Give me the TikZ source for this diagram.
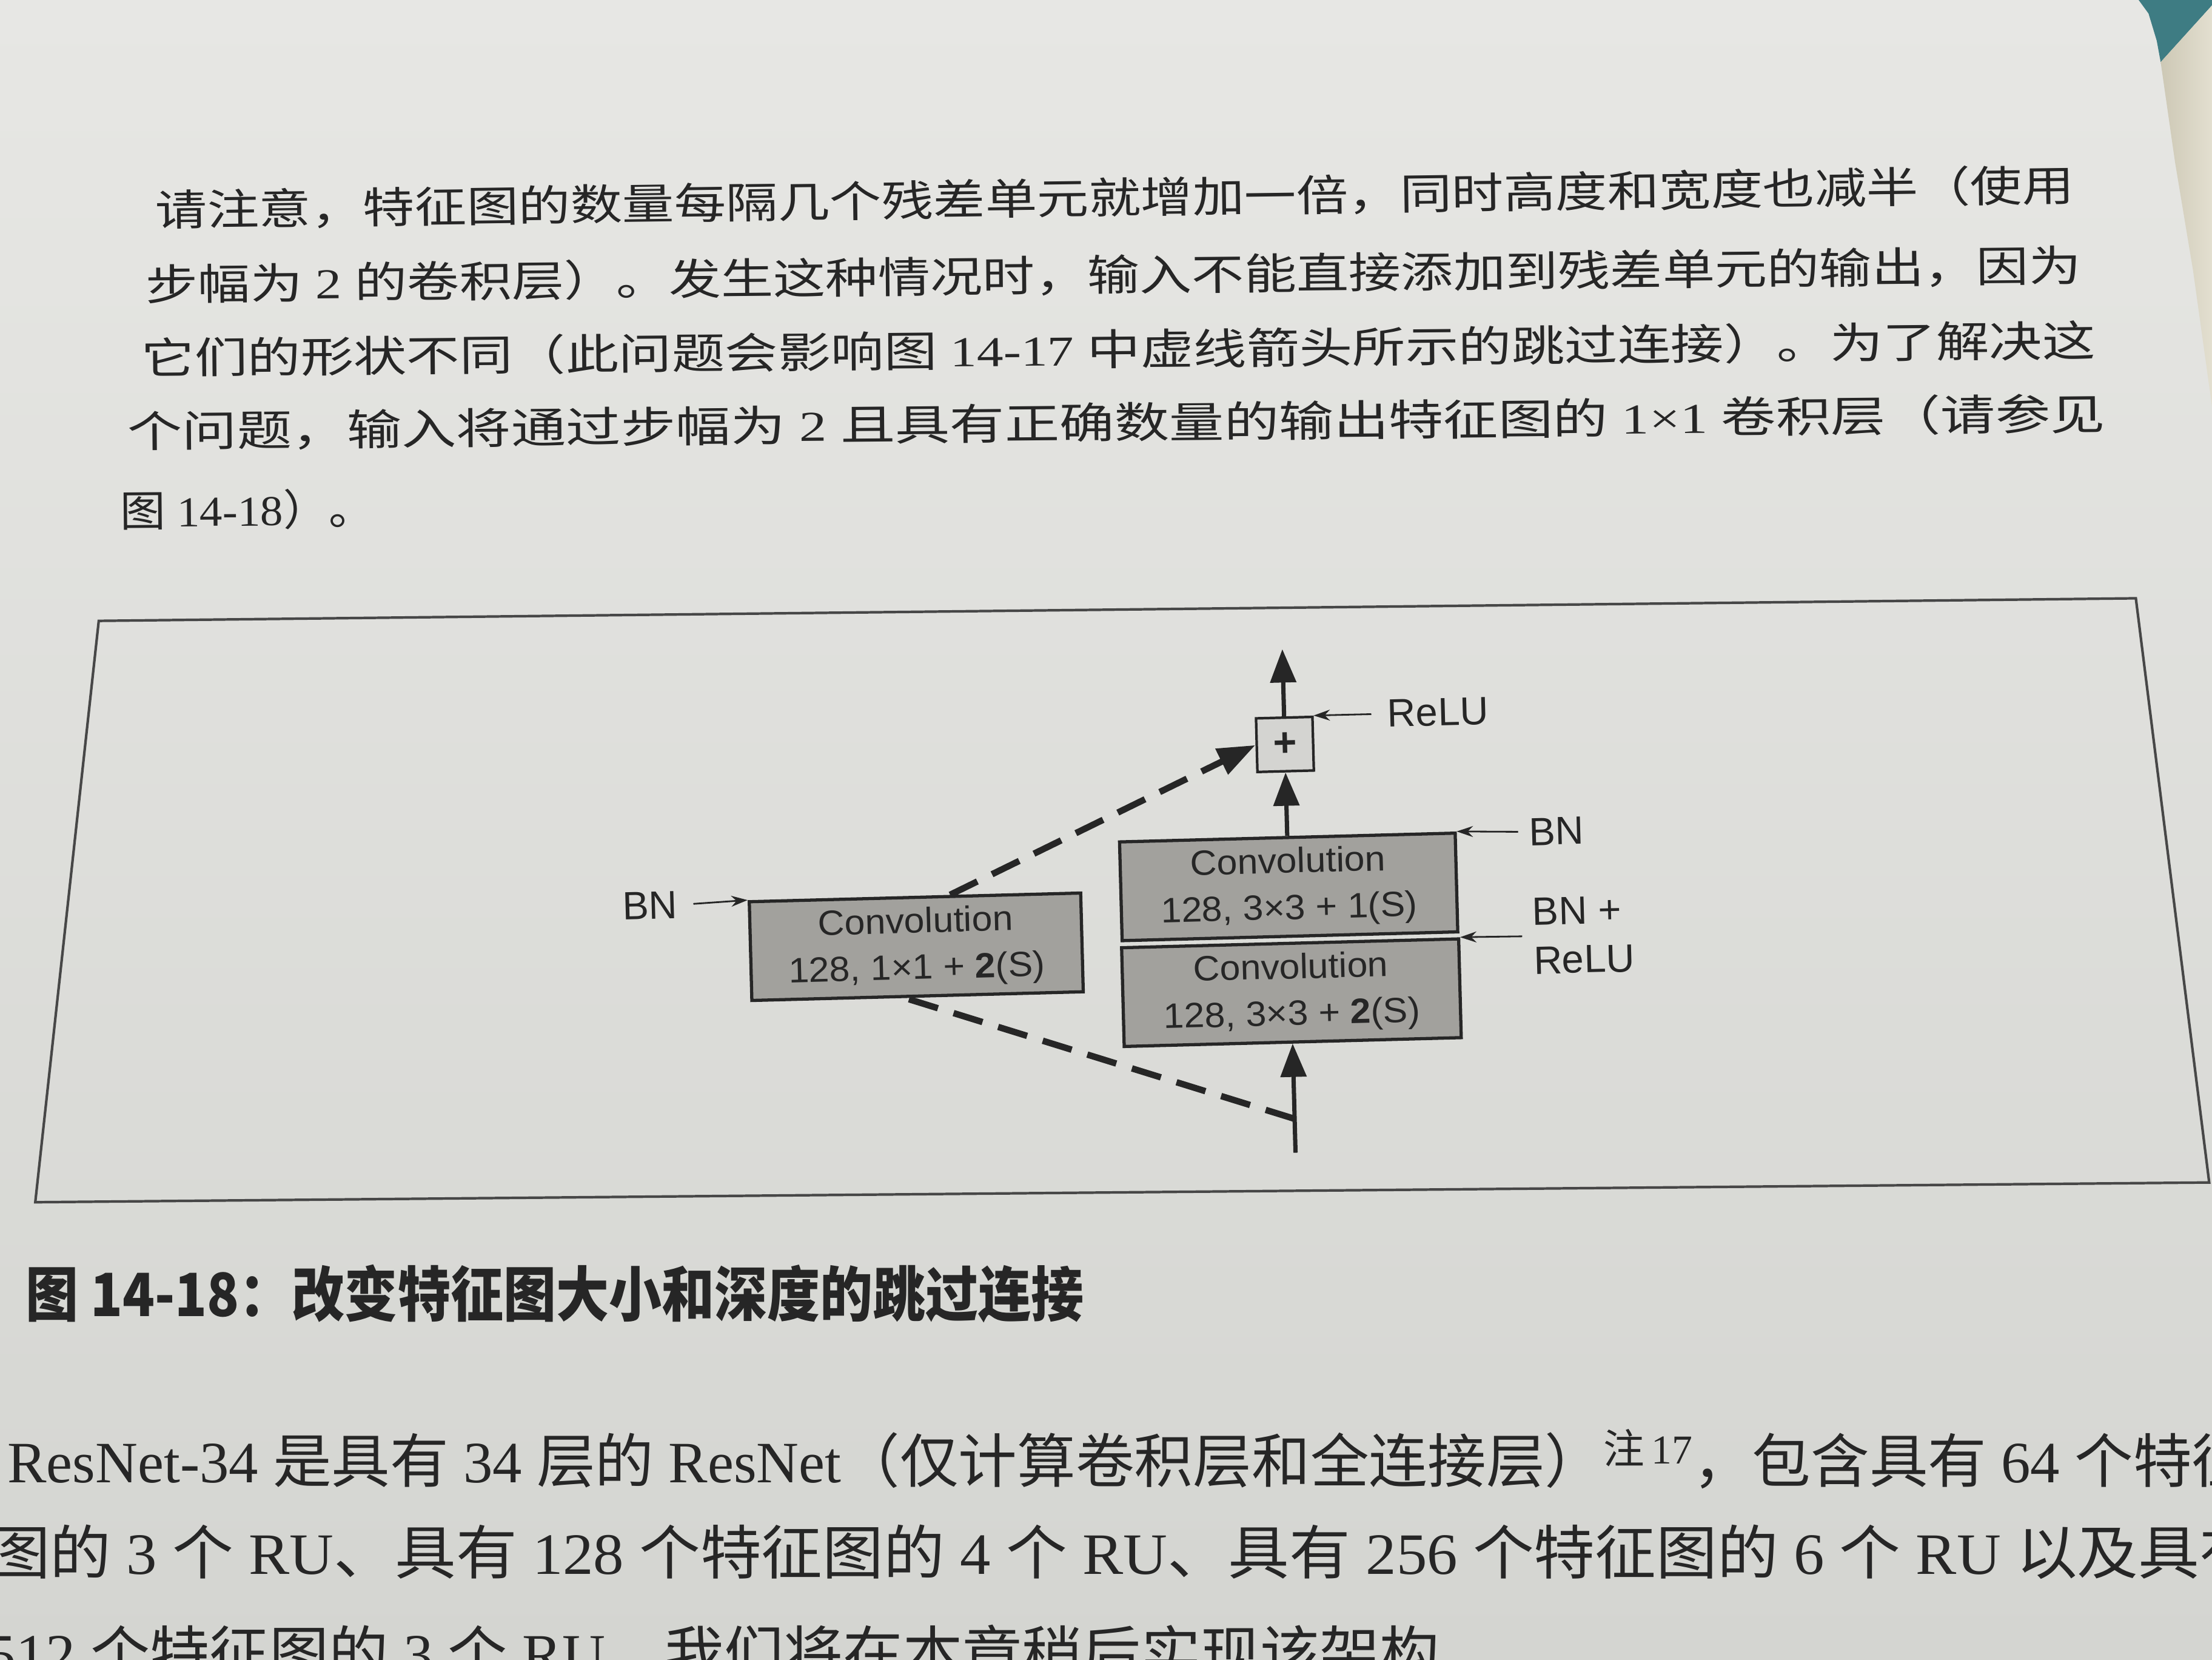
\documentclass[tikz,border=0pt]{standalone}
\usepackage{fontspec}
\usepackage{graphicx}
\setmainfont{Liberation Serif}
\setsansfont{Liberation Sans}
\newfontfamily\zh{Noto Sans CJK SC}
\usetikzlibrary{arrows.meta,calc}

% one drawing unit
\newlength\px
\setlength\px{0.023265cm}

\definecolor{paperA}{HTML}{E7E7E4}
\definecolor{paperB}{HTML}{D4D5D1}
\definecolor{ink}{HTML}{262626}
\definecolor{boxgrey}{HTML}{A2A19D}
\definecolor{plusgrey}{HTML}{D4D4D1}
\definecolor{cloth}{HTML}{3E7C83}
\definecolor{pageL}{HTML}{CDC8B5}
\definecolor{pageR}{HTML}{E3DFD0}

% a line of running text, stretched to a given width
\newcommand\textline[7][]{%
  \node[anchor=west, inner sep=0pt, text=ink, rotate=#5, #1] (#2) at (#3,#4)
    {\resizebox{#6\px}{\height}{#7}};}

% two-line label of a convolution block
\newcommand\convtext[2]{\scalebox{1.05}[1]{\begin{tabular}{@{}c@{}}#1\\#2\end{tabular}}}

\tikzset{
  para/.style={font=\fontsize{20}{24}\selectfont},
  body/.style={font=\fontsize{27.5}{32}\selectfont},
  convbox/.style={draw=ink, line width=1.5pt, fill=boxgrey, inner sep=0pt,
    minimum height=70*\px, text=ink,
    font=\sffamily\fontsize{16.5}{21.8}\selectfont},
  plusbox/.style={draw=ink, line width=1.2pt, fill=plusgrey, inner sep=0pt,
    minimum width=40*\px, minimum height=38*\px, text=ink,
    font=\sffamily\bfseries\fontsize{19}{19}\selectfont},
  tag/.style={inner sep=0pt, text=ink, font=\sffamily\fontsize{18.5}{23}\selectfont},
  feed/.style={draw=ink, line width=0.8pt, -{Stealth[length=0.27cm,width=0.18cm]}},
  flow/.style={draw=ink, line width=2pt, -{Triangle[length=0.55cm,width=0.42cm]}},
  skip/.style={draw=ink, line width=3pt, dash pattern=on 0.5cm off 0.27cm},
  frameline/.style={draw=ink!85, line width=1.2pt, line join=miter}
}

\begin{document}
\begin{tikzpicture}[x=0.023265cm, y=-0.023265cm]
\useasboundingbox (0,0) rectangle (1568,1176);

% paper
\shade[top color=paperA, bottom color=paperB] (0,0) rectangle (1568,1176);
% cloth and the next page at the top right corner
\fill[cloth] (1516,0) -- (1568,0) -- (1568,3.8) -- (1531.6,44) -- (1528.8,28.8) -- (1523,9.6) -- cycle;
\shade[left color=pageL, right color=pageR]
  (1531.6,44) -- (1568,3.8) -- (1568,288) -- (1554.6,192) -- (1541.8,115) -- cycle;

% paragraph above the figure
\textline[para]{p1}{110}{149}{0.76}{1360}{\zh 请注意，特征图的数量每隔几个残差单元就增加一倍，同时高度和宽度也减半（使用}
\textline[para]{p2}{103}{201.5}{0.56}{1372}{{\zh 步幅为} 2 {\zh 的卷积层）。发生这种情况时，输入不能直接添加到残差单元的输出，因为}}
\textline[para]{p3}{100}{253.6}{0.52}{1385}{{\zh 它们的形状不同（此问题会影响图} 14-17 {\zh 中虚线箭头所示的跳过连接）。为了解决这}}
\textline[para]{p4}{90}{305.6}{0.51}{1402}{{\zh 个问题，输入将通过步幅为} 2 {\zh 且具有正确数量的输出特征图的} 1×1 {\zh 卷积层（请参见}}
\textline[para]{p5}{85}{362}{0.5}{180}{{\zh 图} 14-18{\zh ）。}}

% figure frame
\draw[frameline] (70,440) -- (1514,424) -- (1566,838) -- (25,852) -- cycle;

% the residual unit with a 1x1 projection on the skip path
\begin{scope}[rotate around={1.5:(800,650)}, transform shape]
  \node[convbox, minimum width=235*\px] (c1) at (649,667)
    {\convtext{Convolution}{128, 1×1 + {\bfseries 2}(S)}};
  \node[convbox, minimum width=238*\px] (c2) at (914,631.5)
    {\convtext{Convolution}{128, 3×3 + 1(S)}};
  \node[convbox, minimum width=239*\px] (c3) at (914,706.5)
    {\convtext{Convolution}{128, 3×3 + {\bfseries 2}(S)}};
  \node[plusbox] (add) at (914,530.5) {+};

  \coordinate (out) at (914,463);
  \coordinate (in) at (914,820);
  \coordinate (fork) at (914,796);

  \node[tag] (bnA) at (461,633) {BN};
  \node[tag, anchor=west] (relu) at (987,510.7) {ReLU};
  \node[tag, anchor=west] (bnB) at (1085,597) {BN};
  \node[tag, anchor=west, align=left] (bnr) at (1086,671) {BN +\\ReLU};

  \draw[flow] (add.north) -- (out);
  \draw[flow] (c2.north) -- (add.south);
  \draw[flow] (in) -- (c3.south);

  \draw[skip] (fork) -- ($(c1.south)+(-9,0)$);
  \draw[skip, -{Triangle[length=0.62cm,width=0.45cm]}] ($(c1.north)+(25,0)$) -- (add.west);

  \draw[feed, shorten <=0.26cm] (bnA.east) -- (c1.north west);
  \draw[feed, shorten <=0.26cm] (relu.west) -- (add.north east);
  \draw[feed, shorten <=0.17cm] (bnB.west) -- (c2.north east);
  \draw[feed, shorten <=0.17cm] (bnr.west) -- (c3.north east);
\end{scope}

% caption
\node[anchor=west, inner sep=0pt, text=ink, font=\fontsize{28}{32}\selectfont] (cap) at (18,917)
  {\resizebox{750\px}{\height}{\zh\bfseries 图 14-18：改变特征图大小和深度的跳过连接}};

% running text below the figure
\textline[body]{b1}{5}{1034}{0}{1590}{ResNet-34 {\zh 是具有} 34 {\zh 层的} ResNet{\zh （仅计算卷积层和全连接层）}\textsuperscript{{\zh 注}\,17}{\zh ，包含具有} 64 {\zh 个特征}}
\textline[body]{b2}{-8}{1100}{0}{1610}{{\zh 图的} 3 {\zh 个} RU{\zh 、具有} 128 {\zh 个特征图的} 4 {\zh 个} RU{\zh 、具有} 256 {\zh 个特征图的} 6 {\zh 个} RU {\zh 以及具有}}
\textline[body]{b3}{-10}{1171}{0}{1072}{512 {\zh 个特征图的} 3 {\zh 个} RU{\zh 。我们将在本章稍后实现该架构。}}
\end{tikzpicture}
\end{document}
